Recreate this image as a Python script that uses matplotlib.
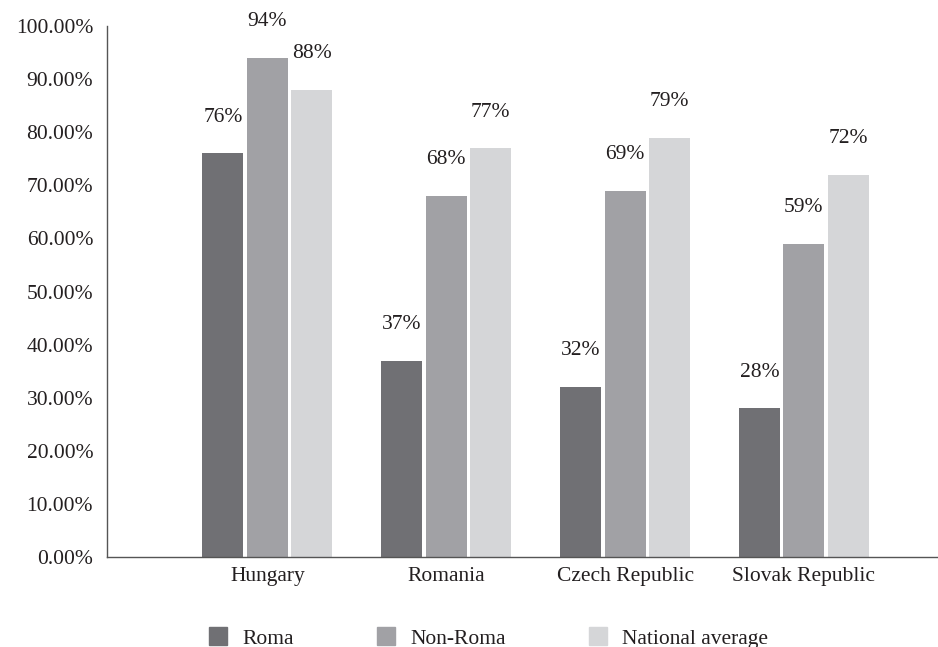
import matplotlib.pyplot as plt
import numpy as np
from matplotlib.patches import Patch

# ====== DATA ======
countries = ['Hungary', 'Romania', 'Czech Republic', 'Slovak Republic']
roma = [76, 37, 32, 28]
non_roma = [94, 68, 69, 59]
national = [88, 77, 79, 72]
series_names = ['Roma', 'Non-Roma', 'National average']
yticks = np.arange(0, 101, 10)
# ==================

COLORS = ['#707074', '#a1a1a5', '#d5d6d8']
TXT = '#231f20'
FS = 15.5

plt.rcParams['font.family'] = ['Liberation Serif', 'DejaVu Serif']

fig = plt.figure(figsize=(9.38, 6.47), dpi=100)
ax = fig.add_axes([0.1141, 0.1391, 0.8859, 0.8207])

x = np.arange(len(countries))
w = 0.229
step = 0.249
for i, (vals, name) in enumerate(zip([roma, non_roma, national], series_names)):
    xs = x + (i - 1) * step
    ax.bar(xs, vals, width=w, color=COLORS[i], label=name)
    for xi, v in zip(xs, vals):
        ax.annotate(f'{v}%', (xi, v), xytext=(0, 26), textcoords='offset points',
                    ha='center', va='center', fontsize=FS, color=TXT)

ax.set_xlim(-0.897, len(countries) - 1 + 0.75)
ax.set_ylim(0, 100)
ax.set_yticks(yticks)
ax.set_yticklabels([f'{t:.2f}%' for t in yticks])
ax.set_xticks(x)
ax.set_xticklabels(countries)
ax.tick_params(axis='both', length=0, labelsize=FS, labelcolor=TXT)
ax.tick_params(axis='y', pad=10)
ax.tick_params(axis='x', pad=7)

for s in ['top', 'right']:
    ax.spines[s].set_visible(False)
for s in ['left', 'bottom']:
    ax.spines[s].set_color('#555555')
    ax.spines[s].set_linewidth(1.0)

handles = [Patch(color=c) for c in COLORS]
fig.legend(handles, series_names, loc='lower left', bbox_to_anchor=(0.222, -0.004),
           ncol=3, frameon=False, fontsize=FS, handlelength=0.84, handleheight=0.9,
           handletextpad=0.7, columnspacing=3.86, borderpad=0.05, borderaxespad=0,
           labelcolor=TXT)

plt.savefig('out.png', dpi=100)
plt.close()
